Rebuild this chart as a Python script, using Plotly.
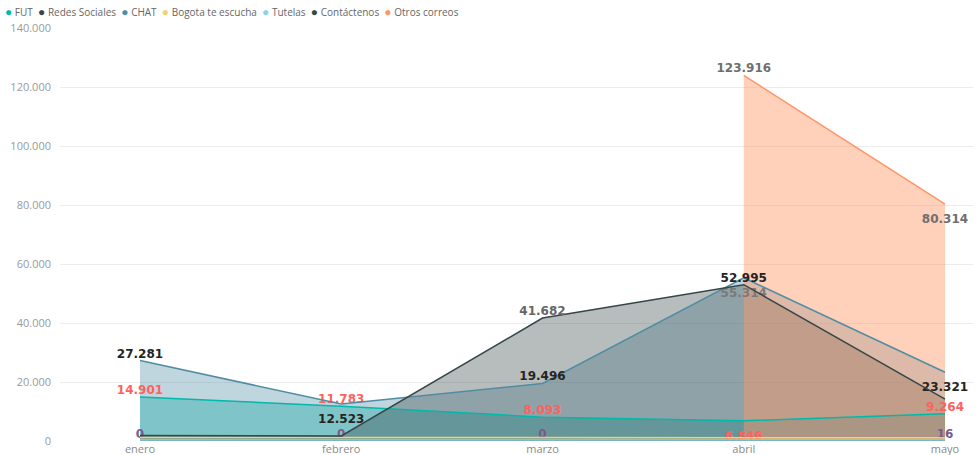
import plotly.graph_objects as go

meses = ["enero", "febrero", "marzo", "abril", "mayo"]

fut = [14901, 11783, 8093, 6846, 9264]
redes_sociales = [0, 0, 0, 0, 16]
chat = [27281, 12523, 19496, 55314, 23321]
bogota = [1200, 1200, 1300, 1300, 1100]
tutelas = [300, 300, 300, 300, 300]
contactenos = [1900, 1700, 41682, 52995, 14200]
otros_correos = [None, None, None, 123916, 80314]

y_ticks = [0, 20000, 40000, 60000, 80000, 100000, 120000, 140000]

RED = "#FD625E"
BLACK = "#252423"
GRAY = "#6f6f6f"
PURPLE = "#7B5A8E"
T, B = "top center", "bottom center"


def fmt(v):
    return "" if v is None else f"{v:,}".replace(",", ".")


def labels(vals, show):
    return [fmt(v) if s else "" for v, s in zip(vals, show)]


x = list(range(len(meses)))

series = [
    dict(name="FUT", y=fut, color="#01B8AA", fill="rgba(1,184,170,0.40)",
         show=[1, 1, 1, 1, 1], pos=[T, T, T, B, T], tcol=[RED] * 5),
    dict(name="Redes Sociales", y=redes_sociales, color="#374649", fill="rgba(55,70,73,0.0)",
         show=[1, 1, 1, 0, 1], pos=[T] * 5, tcol=[PURPLE] * 5),
    dict(name="CHAT", y=chat, color="#4F8DA3", fill="rgba(79,141,163,0.36)",
         show=[1, 1, 1, 1, 1], pos=[T, B, T, B, B],
         tcol=[BLACK, BLACK, BLACK, "#7a7a7a", BLACK]),
    dict(name="Bogota te escucha", y=bogota, color="#F2D46E", fill="rgba(242,212,110,0.25)",
         show=[0] * 5, pos=[T] * 5, tcol=[GRAY] * 5),
    dict(name="Tutelas", y=tutelas, color="#8AD4EB", fill="rgba(138,212,235,0.30)",
         show=[0] * 5, pos=[T] * 5, tcol=[GRAY] * 5),
    dict(name="Contáctenos", y=contactenos, color="#374649", fill="rgba(55,70,73,0.36)",
         show=[0, 0, 1, 1, 0], pos=[T] * 5, tcol=[GRAY, GRAY, "#666666", BLACK, GRAY]),
    dict(name="Otros correos", y=otros_correos, color="#FE9666", fill="rgba(254,150,102,0.45)",
         show=[0, 0, 0, 1, 1], pos=[T, T, T, T, B], tcol=["#6f6f6f"] * 5),
]

fig = go.Figure()
# areas first
for s in series:
    fig.add_trace(go.Scatter(
        x=x, y=s["y"], name=s["name"], mode="none",
        fill="tozeroy", fillcolor=s["fill"],
        showlegend=False, hoverinfo="skip",
    ))
# lines and data labels on top
for s in series:
    msize = [14 if p == B else 0 for p in s["pos"]]
    fig.add_trace(go.Scatter(
        x=x, y=s["y"], name=s["name"], mode="lines+markers+text",
        line=dict(color=s["color"], width=1.5),
        marker=dict(size=msize, color="rgba(0,0,0,0)", line=dict(width=0)),
        text=labels(s["y"], s["show"]), textposition=s["pos"],
        textfont=dict(family="DejaVu Sans", size=12, color=s["tcol"], weight="bold"),
        showlegend=False, hoverinfo="skip", cliponaxis=False,
    ))

legend_text = "&nbsp;&nbsp;".join(
    f"<span style='color:{s['color']};font-size:12px'>●</span> <span style='color:#666666'>{s['name']}</span>"
    for s in series
)

fig.update_layout(
    width=978, height=455,
    margin=dict(l=60, r=5, t=28, b=14, autoexpand=False),
    paper_bgcolor="white", plot_bgcolor="white",
    separators=",.",
    font=dict(family="Open Sans", size=11, color="#999999"),
    xaxis=dict(
        tickmode="array", tickvals=x, ticktext=meses, automargin=False,
        range=[-0.3975, 4.139], showgrid=False, zeroline=False, showline=False,
        tickfont=dict(size=11, color="#8a8a8a"), ticks="", ticklabelstandoff=0,
    ),
    yaxis=dict(
        range=[0, 140000], tickvals=y_ticks, tickformat=",d", automargin=False,
        showgrid=True, gridcolor="#ececec", gridwidth=1, zeroline=False, showline=False,
        tickfont=dict(size=11, color="#9a9a9a"), ticks="", ticklabelstandoff=8,
    ),
    annotations=[dict(
        text=legend_text, xref="paper", yref="paper", showarrow=False,
        x=-57 / 913, y=1 + (28 - 11) / 413,
        xanchor="left", yanchor="middle",
        font=dict(family="Open Sans", size=10, color="#666666"),
    )],
)

fig.write_html("out.html")
